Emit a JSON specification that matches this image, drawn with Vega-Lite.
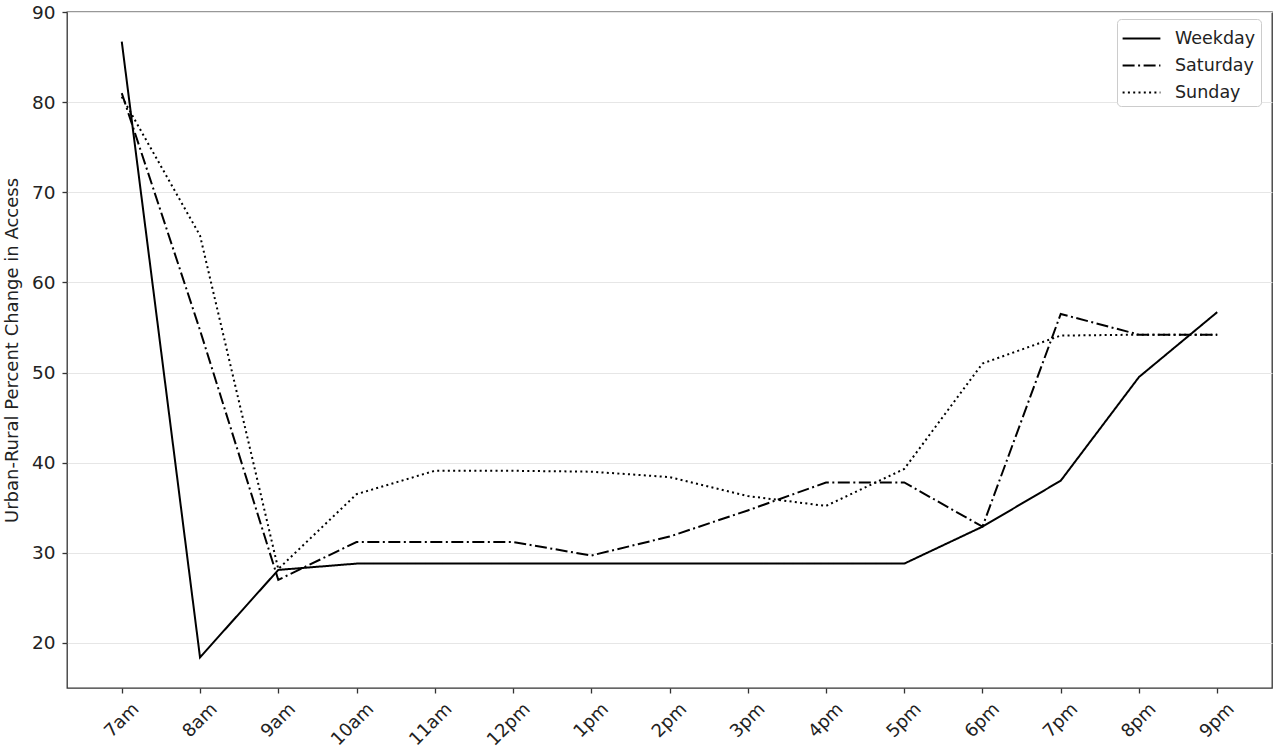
{
  "$schema": "https://vega.github.io/schema/vega-lite/v6.json",
  "autosize": {"type": "none"},
  "padding": {"left": 67, "top": 12, "right": 8, "bottom": 64},
  "width": 1205,
  "height": 676,
  "background": "white",
  "config": {
    "font": "DejaVu Sans",
    "view": {"stroke": "#333333", "strokeWidth": 1.3},
    "axis": {
      "labelFont": "DejaVu Sans",
      "titleFont": "DejaVu Sans",
      "labelColor": "#222222",
      "titleColor": "#222222",
      "labelFontSize": 18.5,
      "titleFontSize": 18,
      "titleFontWeight": "normal",
      "domain": false,
      "tickColor": "#333333",
      "tickWidth": 1.3,
      "tickSize": 5,
      "labelPadding": 5
    },
    "legend": {
      "labelFont": "DejaVu Sans",
      "labelFontSize": 17.5,
      "labelColor": "#222222"
    }
  },
  "data": {
    "values": [
      {"hour": 7, "day": "Weekday", "change": 86.7},
      {"hour": 8, "day": "Weekday", "change": 18.4},
      {"hour": 9, "day": "Weekday", "change": 28.1},
      {"hour": 10, "day": "Weekday", "change": 28.8},
      {"hour": 11, "day": "Weekday", "change": 28.8},
      {"hour": 12, "day": "Weekday", "change": 28.8},
      {"hour": 13, "day": "Weekday", "change": 28.8},
      {"hour": 14, "day": "Weekday", "change": 28.8},
      {"hour": 15, "day": "Weekday", "change": 28.8},
      {"hour": 16, "day": "Weekday", "change": 28.8},
      {"hour": 17, "day": "Weekday", "change": 28.8},
      {"hour": 18, "day": "Weekday", "change": 32.9},
      {"hour": 19, "day": "Weekday", "change": 38.0},
      {"hour": 20, "day": "Weekday", "change": 49.5},
      {"hour": 21, "day": "Weekday", "change": 56.7},
      {"hour": 7, "day": "Saturday", "change": 81.0},
      {"hour": 8, "day": "Saturday", "change": 54.7},
      {"hour": 9, "day": "Saturday", "change": 27.0},
      {"hour": 10, "day": "Saturday", "change": 31.2},
      {"hour": 11, "day": "Saturday", "change": 31.2},
      {"hour": 12, "day": "Saturday", "change": 31.2},
      {"hour": 13, "day": "Saturday", "change": 29.7},
      {"hour": 14, "day": "Saturday", "change": 31.8},
      {"hour": 15, "day": "Saturday", "change": 34.7},
      {"hour": 16, "day": "Saturday", "change": 37.8},
      {"hour": 17, "day": "Saturday", "change": 37.8},
      {"hour": 18, "day": "Saturday", "change": 32.9},
      {"hour": 19, "day": "Saturday", "change": 56.5},
      {"hour": 20, "day": "Saturday", "change": 54.2},
      {"hour": 21, "day": "Saturday", "change": 54.2},
      {"hour": 7, "day": "Sunday", "change": 80.6},
      {"hour": 8, "day": "Sunday", "change": 65.2},
      {"hour": 9, "day": "Sunday", "change": 28.2},
      {"hour": 10, "day": "Sunday", "change": 36.5},
      {"hour": 11, "day": "Sunday", "change": 39.1},
      {"hour": 12, "day": "Sunday", "change": 39.1},
      {"hour": 13, "day": "Sunday", "change": 39.0},
      {"hour": 14, "day": "Sunday", "change": 38.4},
      {"hour": 15, "day": "Sunday", "change": 36.3},
      {"hour": 16, "day": "Sunday", "change": 35.2},
      {"hour": 17, "day": "Sunday", "change": 39.3},
      {"hour": 18, "day": "Sunday", "change": 51.0},
      {"hour": 19, "day": "Sunday", "change": 54.1},
      {"hour": 20, "day": "Sunday", "change": 54.2},
      {"hour": 21, "day": "Sunday", "change": 54.2}
    ]
  },
  "mark": {"type": "line", "color": "black", "strokeWidth": 2},
  "encoding": {
    "x": {
      "field": "hour",
      "type": "quantitative",
      "title": null,
      "scale": {"domain": [6.3, 21.7], "nice": false, "zero": false},
      "axis": {
        "values": [7, 8, 9, 10, 11, 12, 13, 14, 15, 16, 17, 18, 19, 20, 21],
        "labelExpr": "datum.value < 12 ? datum.value + 'am' : (datum.value == 12 ? '12pm' : (datum.value - 12) + 'pm')",
        "labelAngle": -45,
        "labelAlign": "right",
        "labelBaseline": "middle",
        "labelFontSize": 18,
        "labelOffset": 14,
        "labelPadding": 13,
        "grid": false
      }
    },
    "y": {
      "field": "change",
      "type": "quantitative",
      "title": "Urban-Rural Percent Change in Access",
      "scale": {"domain": [15, 90], "nice": false, "zero": false},
      "axis": {
        "values": [20, 30, 40, 50, 60, 70, 80, 90],
        "grid": true,
        "gridColor": "#e6e6e6",
        "gridWidth": 1,
        "labelPadding": 7,
        "titlePadding": 10
      }
    },
    "strokeDash": {
      "field": "day",
      "type": "nominal",
      "scale": {
        "domain": ["Weekday", "Saturday", "Sunday"],
        "range": [[1, 0], [12, 3.5, 2, 3.5], [2, 3.3]]
      },
      "legend": {
        "title": null,
        "orient": "none",
        "legendX": 1050,
        "legendY": 7,
        "symbolType": "M-1.4,0H1.4",
        "symbolStrokeColor": "black",
        "symbolStrokeWidth": 2,
        "symbolSize": 729,
        "symbolOffset": 5,
        "padding": 5,
        "strokeColor": "#cccccc",
        "fillColor": "white",
        "cornerRadius": 4,
        "labelOffset": 19,
        "rowPadding": 4
      }
    }
  }
}
